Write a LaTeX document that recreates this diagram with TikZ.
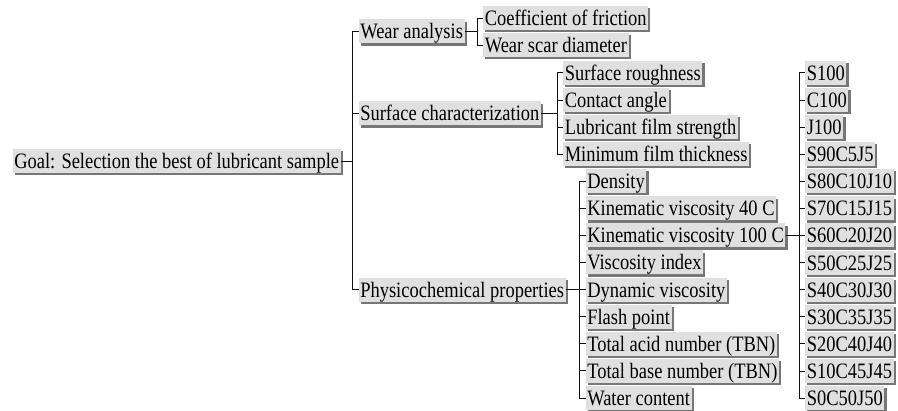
\documentclass[tikz,border=0pt]{standalone}
\usepackage{fontspec}
\setmainfont{Liberation Serif}
\newfontfamily\boxfont[FakeStretch=0.84]{Liberation Serif}
\usetikzlibrary{shadows}
\definecolor{boxfill}{HTML}{E0E0E0}
\definecolor{boxshade}{HTML}{777777}
\definecolor{wire}{HTML}{101010}
\begin{document}
\begin{tikzpicture}[x=1pt,y=-1pt,
  item/.style={anchor=west, fill=boxfill, inner xsep=1.6pt, inner ysep=0pt,
    minimum height=24pt, text height=19.5pt, text depth=4.5pt,
    font=\boxfont\fontsize{22}{22}\selectfont,
    drop shadow={shadow xshift=2.2pt, shadow yshift=-2.2pt, opacity=1, fill=boxshade}},
  link/.style={draw=wire, line width=0.8pt}]
\useasboundingbox (0,0) rectangle (898,411);

% root
\node[item] (goal) at (12.5,161) {Goal: Selection the best of lubricant sample};

% first level
\node[item] (wear) at (358.5,31.5) {Wear analysis};
\node[item] (surf) at (358.5,113.5) {Surface characterization};
\node[item] (phys) at (358.5,289.6) {Physicochemical properties};

% wear analysis
\node[item] (cof) at (483,18) {Coefficient of friction};
\node[item] (wsd) at (483,45) {Wear scar diameter};

% surface characterization
\node[item] (rough) at (563,72.9) {Surface roughness};
\node[item] (angle) at (563,100) {Contact angle};
\node[item] (film) at (563,127.1) {Lubricant film strength};
\node[item] (thick) at (563,154.2) {Minimum film thickness};

% physicochemical properties
\node[item] (dens) at (585.5,181.3) {Density};
\node[item] (kv40) at (585.5,208.4) {Kinematic viscosity 40 C};
\node[item] (kv100) at (585.5,235.5) {Kinematic viscosity 100 C};
\node[item] (vi) at (585.5,262.5) {Viscosity index};
\node[item] (dyn) at (585.5,289.6) {Dynamic viscosity};
\node[item] (flash) at (585.5,316.7) {Flash point};
\node[item] (tan) at (585.5,343.8) {Total acid number (TBN)};
\node[item] (tbn) at (585.5,370.9) {Total base number (TBN)};
\node[item] (water) at (585.5,398) {Water content};

% samples
\foreach \n/\t [count=\i from 0] in {s1/S100, s2/C100, s3/J100, s4/S90C5J5,
    s5/S80C10J10, s6/S70C15J15, s7/S60C20J20, s8/S50C25J25, s9/S40C30J30,
    s10/S30C35J35, s11/S20C40J40, s12/S10C45J45, s13/S0C50J50}
  \node[item] (\n) at (805,72.9+27.0917*\i) {\t};

% bracket connectors
\foreach \c in {wear,surf,phys}
  \draw[link] (goal.east) -| ([xshift=-6pt]\c.west) -- (\c.west);
\foreach \c in {cof,wsd}
  \draw[link] (wear.east) -| ([xshift=-6pt]\c.west) -- (\c.west);
\foreach \c in {rough,angle,film,thick}
  \draw[link] (surf.east) -| ([xshift=-6pt]\c.west) -- (\c.west);
\foreach \c in {dens,kv40,kv100,vi,dyn,flash,tan,tbn,water}
  \draw[link] (phys.east) -| ([xshift=-6.5pt]\c.west) -- (\c.west);
\foreach \c in {s1,s2,s3,s4,s5,s6,s7,s8,s9,s10,s11,s12,s13}
  \draw[link] (kv100.east) -| ([xshift=-6pt]\c.west) -- (\c.west);
\end{tikzpicture}
\end{document}
